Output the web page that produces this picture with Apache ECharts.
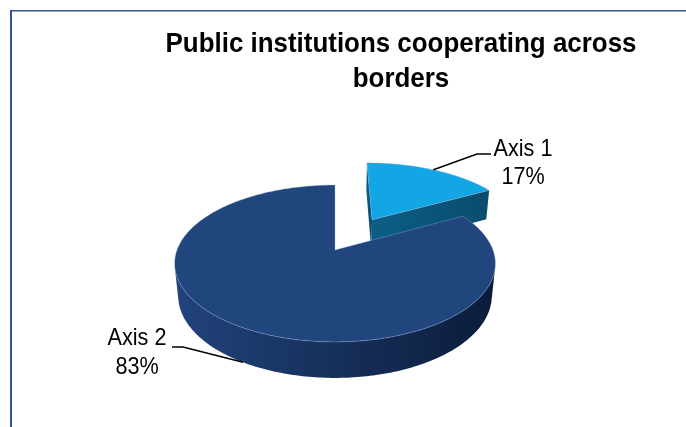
<!DOCTYPE html>
<html>
<head>
<meta charset="utf-8">
<script src="https://cdn.jsdelivr.net/npm/echarts@6/dist/echarts.min.js"></script>
<style>
  html, body { margin: 0; padding: 0; background: #fff; }
  #chart { width: 686px; height: 427px; }
</style>
</head>
<body>
<div id="chart"></div>
<script>
const categories = ['Axis 1', 'Axis 2'];
const values = [17, 83];

// 3d pie layout: centre/size in px, tilt in degrees, depth in radius units
const pie = { cx: 335, cy: 250, k: 158, u: 0.196, tilt: 28.8, depth: 0.236 };
const explode = [0.494, 0];
const topColors = ['#12a6e4', '#21457d'];
const sideColors = [['#0c5e86', '#0a4c6c'], ['#22437c', '#0b1c3a']];
const labelLayout = [
  { rim: 'top', elbow: [477, 154], end: [491, 154], text: [523, 163], lineHeight: 28 },
  { rim: 'bottom', elbow: [183, 347], end: [172, 347], text: [137, 353], lineHeight: 29 }
];
// no narrow font installed, so text is squeezed horizontally
const narrow = 0.9;

const total = values.reduce((a, b) => a + b, 0);
const starts = [];
let acc = 0;
values.forEach(v => { starts.push(acc / total); acc += v; });

const sa = Math.sin(pie.tilt * Math.PI / 180);
const ca = Math.cos(pie.tilt * Math.PI / 180);

// perspective projection, X right, Y up, Z away from viewer (radius = 1)
function proj(X, Y, Z) {
  const zv = 1 + pie.u * (Z * ca - Y * sa);
  return [pie.cx + pie.k * X / zv, pie.cy - pie.k * (Z * sa + Y * ca) / zv];
}

function grad(c) {
  return { type: 'linear', x: 0, y: 0, x2: 1, y2: 0,
    colorStops: [{ offset: 0, color: c[0] }, { offset: 1, color: c[1] }] };
}

function renderItem(params, api) {
  const i = params.dataIndex;
  const v = api.value(0);
  const a0 = starts[i] * 2 * Math.PI;
  const a1 = a0 + v / total * 2 * Math.PI;
  const mid = (a0 + a1) / 2;
  const ox = explode[i] * Math.sin(mid), oz = explode[i] * Math.cos(mid);
  const h = pie.depth;
  const camZ = -ca / pie.u;
  const rim = (t, y) => proj(ox + Math.sin(t), y, oz + Math.cos(t));
  const apex = y => proj(ox, y, oz);
  const children = [];

  // cut faces
  [[a0, a0 - Math.PI / 2], [a1, a1 + Math.PI / 2]].forEach(([t, nt]) => {
    const px = ox + 0.5 * Math.sin(t), pz = oz + 0.5 * Math.cos(t);
    const dot = Math.sin(nt) * (-px) + Math.cos(nt) * (camZ - pz);
    if (dot > 1e-6) {
      children.push({ type: 'polygon',
        shape: { points: [apex(0), rim(t, 0), rim(t, -h), apex(-h)] },
        style: { fill: grad(sideColors[i]) } });
    }
  });

  // outer side, only the part that faces the viewer
  const steps = Math.max(2, Math.ceil((a1 - a0) / (Math.PI / 180)));
  let run = [];
  const flush = () => {
    if (run.length > 1) {
      const pts = run.map(t => rim(t, 0)).concat(run.slice().reverse().map(t => rim(t, -h)));
      children.push({ type: 'polygon', shape: { points: pts }, style: { fill: grad(sideColors[i]) } });
    }
    run = [];
  };
  for (let s = 0; s <= steps; s++) {
    const t = a0 + (a1 - a0) * s / steps;
    const dot = Math.sin(t) * (-ox - Math.sin(t)) + Math.cos(t) * (camZ - oz - Math.cos(t));
    if (dot > 0) run.push(t); else flush();
  }
  flush();

  // top face
  const top = [apex(0)];
  for (let s = 0; s <= steps; s++) top.push(rim(a0 + (a1 - a0) * s / steps, 0));
  children.push({ type: 'polygon', shape: { points: top },
    style: { fill: topColors[i], stroke: 'rgba(150,185,235,0.45)', lineWidth: 0.8 } });

  // leader line and label
  const lay = labelLayout[i];
  const anchor = lay.rim === 'top' ? rim(mid, 0) : rim(mid, -h);
  children.push({ type: 'polyline', shape: { points: [anchor, lay.elbow, lay.end] },
    style: { stroke: '#000', lineWidth: 1.5, fill: null } });
  children.push({ type: 'text', x: lay.text[0], y: lay.text[1], scaleX: narrow,
    style: { text: categories[i] + '\n' + Math.round(v / total * 100) + '%',
      font: '24px "Liberation Sans", Arial, sans-serif', fill: '#000',
      align: 'center', verticalAlign: 'middle', lineHeight: lay.lineHeight } });

  return { type: 'group', children: children };
}

const chart = echarts.init(document.getElementById('chart'));
chart.setOption({
  animation: false,
  graphic: [
    { type: 'line', shape: { x1: 10, y1: 10.75, x2: 686, y2: 10.75 }, style: { stroke: '#2f5597', lineWidth: 1.5 } },
    { type: 'line', shape: { x1: 11, y1: 10, x2: 11, y2: 427 }, style: { stroke: '#2f5597', lineWidth: 2 } },
    { type: 'text', x: 401, y: 62, scaleX: 0.96,
      style: { text: 'Public institutions cooperating across\nborders',
        font: 'bold 27px "Liberation Sans", Arial, sans-serif', fill: '#000',
        align: 'center', verticalAlign: 'middle', lineHeight: 35 } }
  ],
  series: [{
    type: 'custom',
    coordinateSystem: 'none',
    renderItem: renderItem,
    data: values.map((v, i) => ({ name: categories[i], value: v }))
  }]
});
</script>
</body>
</html>
